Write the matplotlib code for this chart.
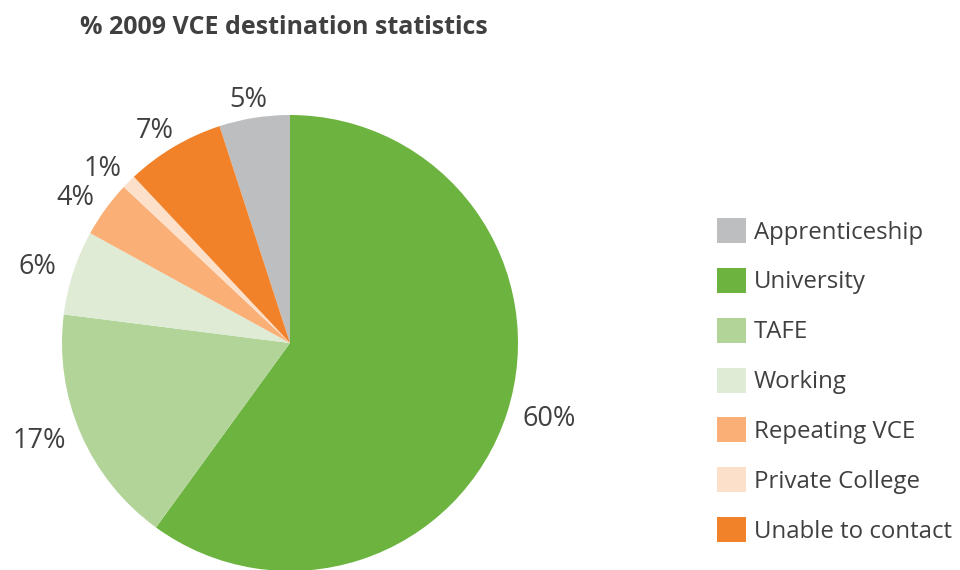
import numpy as np
import matplotlib.pyplot as plt

plt.rcParams['font.family'] = ['Open Sans', 'DejaVu Sans']

categories = ['Apprenticeship', 'University', 'TAFE', 'Working',
              'Repeating VCE', 'Private College', 'Unable to contact']
values = [5, 60, 17, 6, 4, 1, 7]
labels = ['5%', '60%', '17%', '6%', '4%', '1%', '7%']
colors = ['#BCBEC0', '#6DB33F', '#B2D498', '#DFEBD4',
          '#F9AF76', '#FDE0C9', '#F2822A']
text_color = '#404040'

fig = plt.figure(figsize=(9.6, 5.7), dpi=100)
ax = fig.add_axes([62 / 960, -1 / 570, 456 / 960, 456 / 570])

# start with Apprenticeship so University begins at 12 o'clock
start = 90 + values[0] / sum(values) * 360
wedges, texts = ax.pie(values, labels=labels, colors=colors, startangle=start,
                       counterclock=False, labeldistance=1.08,
                       textprops=dict(fontsize=19.5, color=text_color))
ax.set_xlim(-1, 1)
ax.set_ylim(-1, 1)
ax.set_aspect('equal')

# push labels out sideways by half their width, like an "outside end" label
fig.canvas.draw()
px_per_unit = 456 / 2
for w, t in zip(wedges, texts):
    t.set_ha('center')
    th = np.deg2rad((w.theta1 + w.theta2) / 2)
    half = t.get_window_extent().width / 2 / px_per_unit
    x, y = t.get_position()
    t.set_position((x + half * np.cos(th), y))

fig.text(80 / 960, 1 - 28 / 570, '% 2009 VCE destination statistics',
         fontsize=18, fontweight='bold', color=text_color, va='center', ha='left')

leg = fig.legend(wedges, categories, loc='upper left',
                 bbox_to_anchor=(717 / 960, 1 - 218 / 570),
                 frameon=False, fontsize=17.3, handlelength=1.22, handleheight=1.22,
                 handletextpad=0.3, labelspacing=0.97, borderpad=0, borderaxespad=0)
for t in leg.get_texts():
    t.set_color(text_color)

fig.savefig('out.png', dpi=100)
